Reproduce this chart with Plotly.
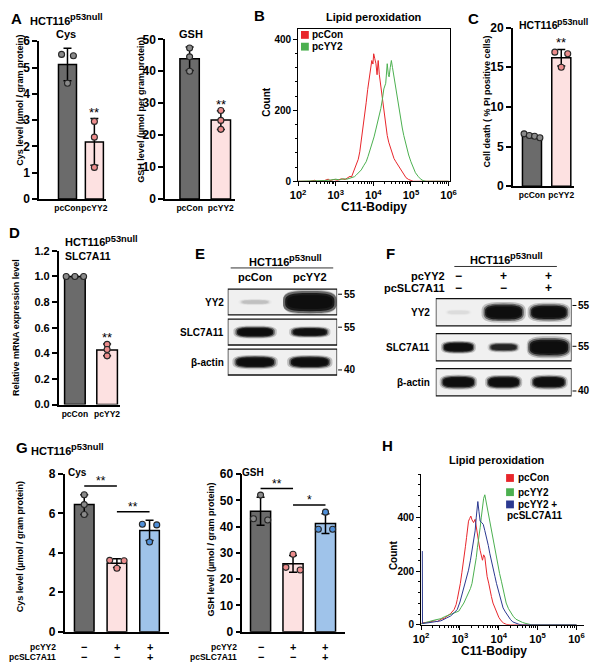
import numpy as np
import plotly.graph_objects as go

W, H = 600, 672
FONT = "Arial, 'Liberation Sans', Helvetica, sans-serif"


def PX(x):
    return x / W


def PY(y):
    return 1 - y / H


# ======================= DATA =======================
groups2 = ["pcCon", "pcYY2"]
# Panel A
a_cys_pccon = [5.45, 5.50, 4.40]
a_cys_pcyy2 = [2.95, 2.35, 1.20]
a_gsh_pccon = [47.3, 44.5, 40.0]
a_gsh_pcyy2 = [27.7, 24.6, 21.8]
# Panel C
c_death_pccon = [6.6, 6.4, 6.3, 6.1]
c_death_pcyy2 = [16.9, 16.7, 15.0]
# Panel D
d_mrna_pccon = [1.0, 1.0, 1.0]
d_mrna_pcyy2 = [0.47, 0.43, 0.38]
# Panel G
g_pcyy2_sign = ["−", "+", "+"]
g_pcslc_sign = ["−", "−", "+"]
g_cys_ctrl = [6.95, 6.45, 5.95]
g_cys_yy2 = [3.62, 3.60, 3.22]
g_cys_yy2_slc = [5.45, 5.42, 4.55]
g_gsh_ctrl = [52.0, 42.5, 43.0]
g_gsh_yy2 = [29.5, 23.5, 24.5]
g_gsh_yy2_slc = [45.5, 39.0, 39.0]
g_cys_sig = [(0, 1, "**"), (1, 2, "**")]
g_gsh_sig = [(0, 1, "**"), (1, 2, "*")]

# Panel B histograms (log10 C11-Bodipy, count)
b_pccon_log = [2.00, 2.30, 2.45, 2.50, 2.70, 2.80, 2.85, 2.95, 3.05, 3.15,
               3.25, 3.32, 3.38, 3.42, 3.46, 3.50, 3.55, 3.60, 3.64, 3.68,
               3.72, 3.76, 3.81, 3.85, 3.90, 3.93, 3.96, 3.99, 4.01, 4.04,
               4.07, 4.10, 4.13, 4.16, 4.20, 4.24, 4.29, 4.33, 4.37, 4.41,
               4.46, 4.50, 4.55, 4.60, 4.68, 4.74, 4.81, 4.87, 4.94, 5.00,
               5.06, 5.50, 6.00]
b_pccon_cnt = [0, 0, 3, 0, 2, 6, 2, 5, 3, 7,
               5, 10, 14, 12, 23, 30, 46, 62, 83, 112,
               147, 180, 221, 258, 294, 315, 340, 330, 359, 345,
               331, 300, 340, 300, 267, 225, 193, 160, 129, 110,
               92, 80, 64, 55, 41, 30, 18, 10, 5, 2,
               0, 0, 0]
b_pcyy2_log = [2.00, 2.50, 2.70, 2.90, 3.00, 3.10, 3.20, 3.30, 3.42, 3.50,
               3.55, 3.62, 3.68, 3.75, 3.81, 3.86, 3.90, 3.94, 3.98, 4.02,
               4.07, 4.11, 4.16, 4.20, 4.24, 4.28, 4.33, 4.35, 4.37, 4.40,
               4.42, 4.45, 4.48, 4.51, 4.55, 4.59, 4.63, 4.68, 4.72, 4.77,
               4.81, 4.87, 4.94, 5.00, 5.06, 5.12, 5.19, 5.25, 5.32, 5.40,
               6.00]
b_pcyy2_cnt = [0, 0, 2, 4, 6, 4, 7, 6, 9, 13,
               18, 25, 32, 45, 55, 70, 83, 98, 110, 125,
               147, 165, 184, 205, 230, 260, 276, 310, 331, 300,
               294, 320, 340, 320, 294, 262, 230, 200, 175, 150,
               129, 100, 74, 55, 37, 24, 14, 7, 2, 0,
               0]

# Panel H histograms
h_pccon_log = [2.00, 2.05, 2.20, 2.34, 2.42, 2.51, 2.60, 2.68, 2.76, 2.85,
               2.90, 2.93, 2.97, 3.01, 3.05, 3.10, 3.14, 3.17, 3.20, 3.22,
               3.25, 3.28, 3.31, 3.35, 3.39, 3.42, 3.45, 3.49, 3.52, 3.55,
               3.58, 3.61, 3.64, 3.67, 3.70, 3.74, 3.77, 3.81, 3.85, 3.90,
               3.94, 4.00, 4.06, 4.12, 4.19, 4.30, 6.00]
h_pccon_cnt = [5, 8, 10, 15, 12, 21, 25, 33, 42, 57,
               75, 94, 120, 154, 195, 240, 290, 325, 360, 385,
               395, 404, 390, 380, 392, 360, 325, 300, 276, 255,
               240, 260, 252, 215, 179, 155, 130, 105, 81, 62,
               45, 28, 15, 7, 2, 0, 0]
h_pcyy2_log = [2.00, 2.05, 2.20, 2.35, 2.51, 2.60, 2.76, 2.87, 2.97, 3.03,
               3.10, 3.16, 3.22, 3.27, 3.31, 3.35, 3.39, 3.42, 3.45, 3.49,
               3.52, 3.55, 3.58, 3.61, 3.64, 3.67, 3.70, 3.73, 3.77, 3.81,
               3.85, 3.90, 3.94, 3.98, 4.02, 4.07, 4.11, 4.15, 4.19, 4.25,
               4.31, 4.37, 4.44, 4.52, 4.61, 4.70, 4.77, 4.85, 6.00]
h_pcyy2_cnt = [3, 6, 12, 18, 23, 30, 39, 45, 51, 65,
               81, 100, 118, 135, 154, 185, 215, 250, 288, 325,
               361, 400, 446, 470, 483, 460, 434, 400, 373, 340,
               312, 280, 252, 220, 191, 160, 130, 105, 81, 60,
               45, 32, 21, 14, 9, 5, 2, 0, 0]
h_slc_log = [2.03, 2.035, 2.20, 2.35, 2.51, 2.65, 2.76, 2.85, 2.93, 3.00,
             3.06, 3.10, 3.14, 3.18, 3.22, 3.27, 3.31, 3.35, 3.39, 3.42,
             3.46, 3.49, 3.52, 3.56, 3.60, 3.64, 3.69, 3.73, 3.77, 3.81,
             3.85, 3.90, 3.94, 3.98, 4.02, 4.07, 4.11, 4.17, 4.23, 4.30,
             4.36, 4.44, 4.52, 4.60, 6.00]
h_slc_cnt = [274, 5, 8, 12, 15, 25, 33, 45, 57, 85,
             118, 135, 154, 180, 203, 240, 276, 310, 349, 400,
             458, 420, 385, 380, 373, 350, 325, 295, 264, 235,
             203, 180, 154, 130, 106, 85, 63, 48, 33, 20,
             11, 6, 2, 0, 0]

# Western blots (relative band density per lane)
blot_rows = ["YY2", "SLC7A11", "β-actin"]
e_lanes = ["pcCon", "pcYY2"]
e_mw = ["55", "55", "40"]
e_density = {"YY2": [0.05, 3.0], "SLC7A11": [1.0, 0.8], "β-actin": [1.2, 1.2]}
f_pcyy2_sign = ["−", "+", "+"]
f_pcslc_sign = ["−", "−", "+"]
f_mw = ["55", "55", "40"]
f_density = {"YY2": [0.0, 2.0, 1.8], "SLC7A11": [0.9, 0.55, 2.2], "β-actin": [1.2, 1.15, 1.2]}

# ======================= STYLE =======================
GRAY, PINK, BLUE = "#6b6b6b", "#fde1e1", "#9fc3ea"
DOT_GRAY, DOT_PINK, DOT_BLUE = "#8a8a8a", "#ec8c8c", "#4f8fd8"
RED, GREEN, NAVY = "#e8262b", "#4cb050", "#2b3990"

fig = go.Figure()
layout = dict(width=W, height=H, margin=dict(l=0, r=0, t=0, b=0),
              paper_bgcolor="white", plot_bgcolor="white", showlegend=False)
shapes = []
anns = []


def axkey(n):
    return ("xaxis" if n == 1 else f"xaxis{n}", "yaxis" if n == 1 else f"yaxis{n}")


def axref(n):
    return ("x" if n == 1 else f"x{n}", "y" if n == 1 else f"y{n}")


def txt(x, y, s, size=10, bold=True, xa="center", ya="middle", angle=0,
        xref="paper", yref="paper", color="black", yshift=0):
    if xref == "paper":
        x = PX(x)
    if yref == "paper":
        y = PY(y)
    anns.append(dict(x=x, y=y, xref=xref, yref=yref, text=(f"<b>{s}</b>" if bold else s),
                     showarrow=False, xanchor=xa, yanchor=ya, textangle=angle, yshift=yshift,
                     font=dict(family=FONT, size=size, color=color), borderpad=0))


def header(x, y, size=11, center=False):
    base_w = 3.723 * size
    sup = size * 0.85
    sup_w = 3.501 * sup
    left = x - (base_w + sup_w) / 2 if center else x
    txt(left, y, "HCT116", size=size, xa="left")
    txt(left + base_w, y - size * 0.3, "p53null", size=sup, xa="left")


def jitter(vals, thr):
    order = np.argsort(vals)[::-1]
    offs = np.zeros(len(vals))
    clusters, cur = [], [order[0]]
    for i in order[1:]:
        if abs(vals[cur[-1]] - vals[i]) < thr:
            cur.append(i)
        else:
            clusters.append(cur)
            cur = [i]
    clusters.append(cur)
    for c in clusters:
        k = len(c)
        if k > 1:
            s = 0.22 if k == 2 else 0.27
            for j, idx in enumerate(c):
                offs[idx] = -s + 2 * s * j / (k - 1)
    return offs


def bar_panel(n, xpx, ypx, xr, yr, dtick, data, fills, dots, labels=None,
              fmt=None, tsize=12, width=0.65):
    xk, yk = axkey(n)
    xa, ya = axref(n)
    k = len(data)
    layout[xk] = dict(domain=[PX(xpx[0]), PX(xpx[1])], range=xr, anchor=ya,
                      showline=True, linecolor="black", linewidth=1.8, ticks="",
                      showgrid=False, zeroline=False, tickmode="array", tickangle=0,
                      tickvals=list(range(k)), ticktext=labels if labels else [""] * k,
                      showticklabels=labels is not None, fixedrange=True,
                      tickfont=dict(family=FONT, size=8.5, color="black", weight="bold"))
    layout[yk] = dict(domain=[PY(ypx[1]), PY(ypx[0])], range=yr, anchor=xa,
                      showline=True, linecolor="black", linewidth=1.8, ticks="outside",
                      ticklen=5, tickwidth=1.8, tickcolor="black", tick0=0, dtick=dtick,
                      tickformat=fmt, showgrid=False, zeroline=False, fixedrange=True,
                      tickfont=dict(family=FONT, size=tsize, color="black", weight="bold"))
    means = [float(np.mean(v)) for v in data]
    sds = [float(np.std(v, ddof=1)) for v in data]
    fig.add_trace(go.Bar(x=list(range(k)), y=means, width=width, xaxis=xa, yaxis=ya,
                         marker=dict(color=fills, line=dict(color="black", width=1.5)),
                         error_y=dict(type="data", array=sds, visible=True, color="black",
                                      thickness=1.5, width=4),
                         hoverinfo="skip"))
    thr = 0.03 * (yr[1] - yr[0])
    for i, v in enumerate(data):
        offs = jitter(np.array(v, dtype=float), thr)
        fig.add_trace(go.Scatter(x=i + offs, y=v, mode="markers", xaxis=xa, yaxis=ya,
                                 cliponaxis=False, hoverinfo="skip",
                                 marker=dict(size=6, color=dots[i],
                                             line=dict(color="#262626", width=1.1))))
    return means, sds


# ---------------- Panel A ----------------
m, s = bar_panel(1, (32, 100), (35, 196), [-1.05, 1.42], [0, 6], 1,
                 [a_cys_pccon, a_cys_pcyy2], [GRAY, PINK], [DOT_GRAY, DOT_PINK],
                 labels=groups2, width=0.67)
txt(1, m[1] + s[1], "**", size=13, bold=False, xref="x", yref="y", ya="bottom", yshift=-2)
m, s = bar_panel(2, (161, 232), (33, 196), [-0.78, 1.44], [0, 50], 10,
                 [a_gsh_pccon, a_gsh_pcyy2], [GRAY, PINK], [DOT_GRAY, DOT_PINK],
                 labels=groups2, width=0.62)
txt(1, m[1] + s[1], "**", size=13, bold=False, xref="x2", yref="y2", ya="bottom", yshift=-2)

txt(9, 12, "A", size=15)
header(22, 14)
txt(59, 28, "Cys", size=11)
txt(187, 28, "GSH", size=11)
txt(12, 95, "Cys level (µmol / gram protein)", size=9, angle=-90)
txt(136, 105, "GSH level (µmol per gram protein)", size=9, angle=-90)

# ---------------- Panel C ----------------
m, s = bar_panel(4, (517, 580), (21, 183), [-0.65, 1.45], [0, 20], 5,
                 [c_death_pccon, c_death_pcyy2], [GRAY, PINK], [DOT_GRAY, DOT_PINK],
                 labels=groups2, width=0.65)
txt(1, m[1] + s[1], "**", size=13, bold=False, xref="x4", yref="y4", ya="bottom", yshift=-2)
txt(477, 12, "C", size=15)
header(522, 18, size=10.5)
txt(490, 97, "Cell death ( % PI positive cells)", size=9, angle=-90)

# ---------------- Panel D ----------------
m, s = bar_panel(5, (52, 115), (249, 406), [-0.5, 1.41], [0, 1.2], 0.2,
                 [d_mrna_pccon, d_mrna_pcyy2], [GRAY, PINK], [DOT_GRAY, DOT_PINK],
                 labels=groups2, fmt=".1f", tsize=11, width=0.64)
txt(1, m[1] + s[1], "**", size=13, bold=False, xref="x5", yref="y5", ya="bottom", yshift=-2)
txt(7, 230, "D", size=15)
header(57, 240)
txt(57, 254, "SLC7A11", size=10.5, xa="left")
txt(8, 327, "Relative mRNA expression level", size=9, angle=-90)


# ---------------- Panel G ----------------
def sig(n, comps, means, sds, yr):
    xa, ya = axref(n)
    pad = 0.055 * (yr[1] - yr[0])
    for a, b, lab in comps:
        lvl = max(means[a] + sds[a], means[b] + sds[b]) + pad
        shapes.append(dict(type="line", xref=xa, yref=ya, x0=a, x1=b, y0=lvl, y1=lvl,
                           line=dict(color="black", width=1.5)))
        txt((a + b) / 2, lvl, lab, size=12, bold=False, xref=xa, yref=ya, ya="bottom", yshift=-3)


m, s = bar_panel(6, (58, 165), (477, 638), [-0.6, 2.6], [0, 8], 2,
                 [g_cys_ctrl, g_cys_yy2, g_cys_yy2_slc], [GRAY, PINK, BLUE],
                 [DOT_GRAY, DOT_PINK, DOT_BLUE], width=0.6)
sig(6, g_cys_sig, m, s, [0, 8])
m, s = bar_panel(7, (240, 345), (477, 638), [-0.56, 2.6], [0, 60], 10,
                 [g_gsh_ctrl, g_gsh_yy2, g_gsh_yy2_slc], [GRAY, PINK, BLUE],
                 [DOT_GRAY, DOT_PINK, DOT_BLUE], width=0.62)
sig(7, g_gsh_sig, m, s, [0, 60])

for n, lx in [(6, 50), (7, 236)]:
    xa, _ = axref(n)
    txt(lx, 654, "pcYY2", size=8.5, xa="right")
    txt(lx, 664, "pcSLC7A11", size=8.5, xa="right")
    for i in range(3):
        txt(i, 654, g_pcyy2_sign[i], size=11, xref=xa)
        txt(i, 664, g_pcslc_sign[i], size=11, xref=xa)

txt(14, 450, "G", size=15)
header(23, 453)
txt(71, 475, "Cys", size=10)
txt(251, 475, "GSH", size=10)
txt(12, 551, "Cys level (µmol / gram protein)", size=9, angle=-90)
txt(208, 554, "GSH level (µmol / gram protein)", size=9, angle=-90)


# ---------------- Histograms B & H ----------------
def hist_panel(n, xpx, ypx, xr, yr, box, curves):
    xk, yk = axkey(n)
    xa, ya = axref(n)
    layout[xk] = dict(type="log", domain=[PX(xpx[0]), PX(xpx[1])], range=xr, anchor=ya,
                      showline=True, mirror=box, linecolor="black", linewidth=1,
                      ticks="outside", ticklen=4, tickcolor="black", showgrid=False,
                      zeroline=False, fixedrange=True, tickmode="array",
                      tickvals=[1e2, 1e3, 1e4, 1e5, 1e6],
                      ticktext=[f"10<sup>{e}</sup>" for e in range(2, 7)],
                      minor=dict(ticks="outside", ticklen=2, tickcolor="black", dtick="D1"),
                      tickfont=dict(family=FONT, size=11, color="black", weight="bold"))
    layout[yk] = dict(domain=[PY(ypx[1]), PY(ypx[0])], range=yr, anchor=xa,
                      showline=True, mirror=box, linecolor="black", linewidth=1,
                      ticks="outside", ticklen=4, tickcolor="black", showgrid=False,
                      zeroline=False, fixedrange=True, tickmode="array",
                      tickvals=[0, 200, 400],
                      minor=dict(ticks="outside", ticklen=2, tickcolor="black", dtick=40),
                      tickfont=dict(family=FONT, size=10, color="black", weight="bold"))
    for lg, cnt, col in curves:
        fig.add_trace(go.Scatter(x=[10 ** v for v in lg], y=cnt, mode="lines",
                                 xaxis=xa, yaxis=ya, hoverinfo="skip",
                                 line=dict(color=col, width=1)))


hist_panel(3, (297, 453), (22, 178), [2, 6.05], [0, 430], True,
           [(b_pccon_log, b_pccon_cnt, RED), (b_pcyy2_log, b_pcyy2_cnt, GREEN)])
txt(258, 9, "B", size=15)
txt(375, 10, "Lipid peroxidation", size=11)
txt(265, 97, "Count", size=10, angle=-90)
txt(375, 204, "C11-Bodipy", size=12)
for i, (lab, col) in enumerate([("pcCon", RED), ("pcYY2", GREEN)]):
    yc = 28.5 + 12 * i
    shapes.append(dict(type="rect", xref="paper", yref="paper", x0=PX(300), x1=PX(308),
                       y0=PY(yc + 4), y1=PY(yc - 4), fillcolor=col, line=dict(width=0)))
    txt(310, yc, lab, size=10, xa="left")

hist_panel(8, (423, 590), (477, 631), [2, 6.2], [0, 560], False,
           [(h_pccon_log, h_pccon_cnt, RED), (h_pcyy2_log, h_pcyy2_cnt, GREEN),
            (h_slc_log, h_slc_cnt, NAVY)])
txt(389, 448, "H", size=15)
txt(501, 463, "Lipid peroxidation", size=11)
txt(395, 560, "Count", size=10, angle=-90)
txt(498, 658, "C11-Bodipy", size=12)
for i, (lab, col) in enumerate([("pcCon", RED), ("pcYY2", GREEN), ("pcYY2 +", NAVY)]):
    yc = [481, 495.5, 508][i]
    shapes.append(dict(type="rect", xref="paper", yref="paper", x0=PX(510), x1=PX(518),
                       y0=PY(yc + 4), y1=PY(yc - 4), fillcolor=col, line=dict(width=0)))
    txt(521, yc, lab, size=10, xa="left")
txt(510, 519.5, "pcSLC7A11", size=10, xa="left")


# ---------------- Western blots E & F ----------------
def blob_path(cx, cy, a, b, p=3.2, npts=48):
    pts = []
    for t in np.linspace(0, 2 * np.pi, npts, endpoint=False):
        c, sn = np.cos(t), np.sin(t)
        x = cx + a * np.sign(c) * abs(c) ** (2 / p)
        y = cy + b * np.sign(sn) * abs(sn) ** (2 / p)
        pts.append(f"{x:.4f},{y:.4f}")
    return "M " + " L ".join(pts) + " Z"


def blot(n, xpx, ypx, nl, dens, box_half, label_x, mw, mw_x, mw_shift):
    xk, yk = axkey(n)
    xa, ya = axref(n)
    nr = len(blot_rows)
    layout[xk] = dict(domain=[PX(xpx[0]), PX(xpx[1])], range=[0.5, nl + 0.5],
                      visible=False, fixedrange=True, anchor=ya)
    layout[yk] = dict(domain=[PY(ypx[1]), PY(ypx[0])], range=[nr - 0.5, -0.5],
                      visible=False, fixedrange=True, anchor=xa)
    fig.add_trace(go.Scatter(x=[None], y=[None], xaxis=xa, yaxis=ya, hoverinfo="skip"))
    row_px = (ypx[1] - ypx[0]) / nr
    for r, name in enumerate(blot_rows):
        shapes.append(dict(type="rect", xref=xa, yref=ya, x0=0.5, x1=nl + 0.5,
                           y0=r - box_half, y1=r + box_half, fillcolor="#f0f0f0",
                           line=dict(width=0)))
        for lane, d in enumerate(dens[name], start=1):
            a = min(1.0, 0.03 + 1.1 * d)
            hw = 0.5 * min(0.98, 0.55 + 0.17 * d)
            hh = box_half * min(0.88, 0.2 + 0.22 * d)
            for sx, sy, af in [(1.1, 1.18, 0.22), (1.0, 1.0, 0.5), (0.92, 0.82, 0.85), (0.84, 0.62, 1.0)]:
                w = min(0.49, hw * sx)
                h = min(box_half * 0.95, hh * sy)
                shapes.append(dict(type="path", xref=xa, yref=ya,
                                   path=blob_path(lane, r, w, h), line=dict(width=0),
                                   fillcolor=f"rgba(14,14,14,{a * af:.3f})"))
        shapes.append(dict(type="rect", xref=xa, yref=ya, x0=0.5, x1=nl + 0.5,
                           y0=r - box_half, y1=r + box_half, fillcolor="rgba(0,0,0,0)",
                           line=dict(color="#111111", width=1.3)))
        yc = ypx[0] + row_px * (r + 0.5)
        txt(label_x, yc, name, size=10, xa="right")
        ym = yc + mw_shift[r]
        shapes.append(dict(type="line", xref="paper", yref="paper", x0=PX(mw_x - 5),
                           x1=PX(mw_x - 1), y0=PY(ym), y1=PY(ym),
                           line=dict(color="black", width=1)))
        txt(mw_x, ym, mw[r], size=10, xa="left")


blot(9, (225, 337), (286, 378), 2, e_density, 0.43, 222, e_mw, 343, [-8, -5, 8])
txt(197, 252, "E", size=15)
header(283, 260, size=11, center=True)
shapes.append(dict(type="line", xref="paper", yref="paper", x0=PX(228), x1=PX(333),
                   y0=PY(266.5), y1=PY(266.5), line=dict(color="#333", width=1)))
for i, lab in enumerate(e_lanes):
    txt(i + 1, 276, lab, size=11, xref="x9")

blot(10, (438, 577), (294, 401), 3, f_density, 0.39, 433, f_mw, 583, [-7, -1, 9])
txt(392, 252, "F", size=15)
header(509, 258, size=11, center=True)
shapes.append(dict(type="line", xref="paper", yref="paper", x0=PX(457), x1=PX(562),
                   y0=PY(265), y1=PY(265), line=dict(color="#333", width=1)))
txt(448, 275, "pcYY2", size=11, xa="right")
txt(448, 287, "pcSLC7A11", size=11, xa="right")
for i in range(3):
    txt(i + 1, 275, f_pcyy2_sign[i], size=12, xref="x10")
    txt(i + 1, 287, f_pcslc_sign[i], size=12, xref="x10")

layout["shapes"] = shapes
layout["annotations"] = anns
fig.update_layout(**layout)
fig.write_html("out.html", config={"displayModeBar": False},
               post_script="document.body.style.margin='0px';document.body.style.overflow='hidden';")
